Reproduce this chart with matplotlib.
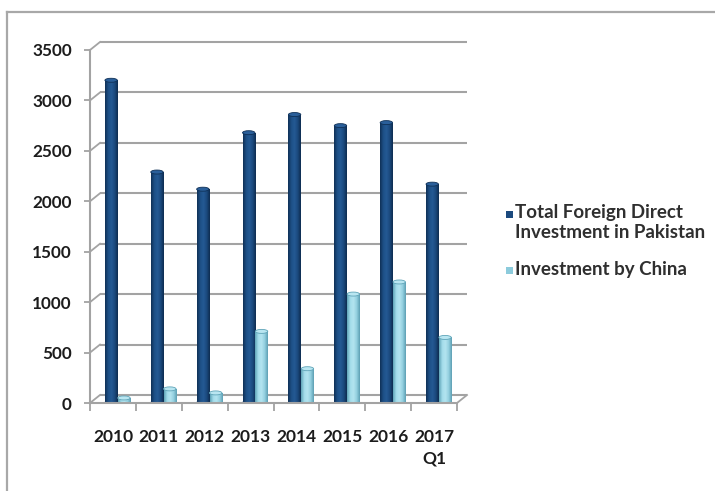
import numpy as np
import matplotlib
matplotlib.use("Agg")
import matplotlib.pyplot as plt
from matplotlib.patches import Ellipse, Rectangle
from matplotlib.transforms import ScaledTranslation
from matplotlib.colors import LinearSegmentedColormap

# ---- data (USD millions) ----
years = ["2010", "2011", "2012", "2013", "2014", "2015", "2016", "2017\nQ1"]
total_fdi = [3200, 2290, 2120, 2680, 2860, 2750, 2780, 2170]
china_fdi = [50, 140, 100, 710, 340, 1080, 1200, 650]
series_names = ["Total Foreign Direct\nInvestment in Pakistan", "Investment by China"]
y_ticks = [0, 500, 1000, 1500, 2000, 2500, 3000, 3500]

W, H, DPI = 715, 491, 100
fig = plt.figure(figsize=(W / DPI, H / DPI), dpi=DPI)
fig.patch.set_facecolor("white")

GRID = "#a3a3a3"
TXT = "#1c1c1c"
FONT = "Lato"

ax = fig.add_axes([90 / W, 88 / H, 367 / W, 353 / H])
ax.set_facecolor("none")
n = len(years)
x = np.arange(n)

# depth of the pseudo-3D wall, in pixels
DX_PX, DY_PX = 10, 8
px_x = ax.bbox.width / n
px_y = ax.bbox.height / 3500
dxd, dyd = DX_PX / px_x, DY_PX / px_y
back = ax.transData + ScaledTranslation(DX_PX / DPI, DY_PX / DPI, fig.dpi_scale_trans)

# back wall gridlines and their connectors to the front axis
for v in y_ticks:
    ax.plot([-0.5, n - 0.5], [v, v], transform=back, color=GRID, lw=1.5,
            zorder=0, clip_on=False, solid_capstyle="butt")
    ax.plot([-0.5, -0.5 + dxd], [v, v + dyd], color=GRID, lw=1.3,
            zorder=0, clip_on=False)
ax.plot([n - 0.5, n - 0.5 + dxd], [0, dyd], color=GRID, lw=1.3, zorder=0, clip_on=False)

# cylinder-like columns
dark_cmap = LinearSegmentedColormap.from_list(
    "dk", ["#0f3056", "#1d4f86", "#245a94", "#1b4a7e", "#0e2c50"])
light_cmap = LinearSegmentedColormap.from_list(
    "lt", ["#5fa4b8", "#a3dcea", "#b3e4f0", "#94d0e0", "#5d9fb3"])
grad = np.linspace(0, 1, 64).reshape(1, -1)

bw = 0.27
series = [(total_fdi, -0.04, dark_cmap, "#1e5189", "#2a5f9a"),
          (china_fdi, 0.24, light_cmap, "#8ccbdc", "#b9e6f1")]
cap_h = 4 / px_y
for vals, off, cmap, base, capc in series:
    bars = ax.bar(x + off, vals, width=bw, color=base, edgecolor="none", zorder=2)
    for b, v in zip(bars, vals):
        x0 = b.get_x()
        im = ax.imshow(grad, extent=[x0, x0 + bw, 0, v], aspect="auto",
                       cmap=cmap, zorder=2.1, interpolation="bilinear")
        im.set_clip_path(b)
        ax.add_patch(Ellipse((x0 + bw / 2, 0), bw, cap_h, color=cmap(0.5), zorder=1.9))
        ax.add_patch(Ellipse((x0 + bw / 2, v), bw, cap_h, facecolor=capc,
                             edgecolor=cmap(0.0), lw=0.6, zorder=2.2))

ax.set_xlim(-0.5, n - 0.5)
ax.set_ylim(0, 3500)

# axes styling
for s in ["top", "right"]:
    ax.spines[s].set_visible(False)
for s in ["left", "bottom"]:
    ax.spines[s].set_color(GRID)
    ax.spines[s].set_linewidth(1.5)
ax.set_yticks(y_ticks)
ax.set_yticklabels([str(t) for t in y_ticks])
ax.tick_params(axis="y", length=4, width=1.3, color=GRID, pad=9,
               labelsize=12.3, labelcolor=TXT)
ax.set_xticks(x)
ax.set_xticklabels(years, linespacing=1.4)
ax.set_xticks(np.arange(-0.5, n, 1), minor=True)
ax.tick_params(axis="x", which="major", length=0, pad=19, labelsize=12.5, labelcolor=TXT)
ax.tick_params(axis="x", which="minor", length=6, width=1.3, color=GRID)
for lab in ax.get_xticklabels() + ax.get_yticklabels():
    lab.set_fontfamily(FONT)
    lab.set_fontweight("bold")

# legend
def fx(px):
    return px / W

def fy(py):
    return 1 - py / H

fig.patches.append(Rectangle((fx(506), fy(218)), 7 / W, 7 / H, transform=fig.transFigure,
                             facecolor="#1b4a7e", edgecolor="none"))
fig.patches.append(Rectangle((fx(506), fy(274)), 7 / W, 7 / H, transform=fig.transFigure,
                             facecolor="#8ccbdc", edgecolor="none"))
fig.text(fx(515), fy(204), series_names[0], ha="left", va="top", fontsize=13.5,
         family=FONT, fontweight="bold", color="#2f2f2f", linespacing=1.25)
fig.text(fx(515), fy(270), series_names[1], ha="left", va="center", fontsize=13.5,
         family=FONT, fontweight="bold", color="#2f2f2f")

# outer chart frame
fig.add_artist(plt.Line2D([fx(7), 1], [fy(12), fy(12)], transform=fig.transFigure,
                          color="#a8a8a8", lw=1.6))
fig.add_artist(plt.Line2D([fx(7), fx(7)], [fy(12), 0], transform=fig.transFigure,
                          color="#a8a8a8", lw=1.6))

fig.savefig("out.png", dpi=DPI)
